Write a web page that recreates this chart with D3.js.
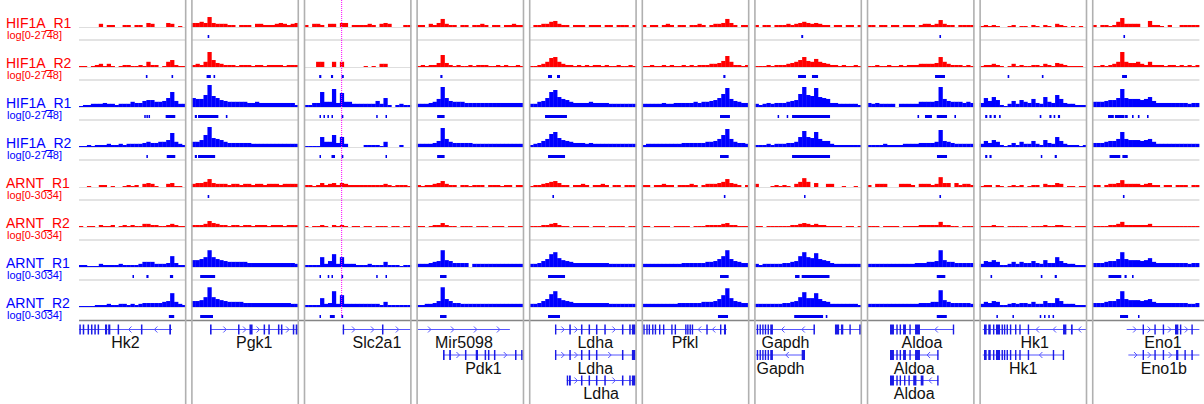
<!DOCTYPE html>
<html><head><meta charset="utf-8">
<script src="https://cdn.jsdelivr.net/npm/d3@7"></script>
<style>
body{margin:0;background:#fff;}
svg{display:block;font-family:"Liberation Sans",Arial,sans-serif;}
</style>
</head><body>
<svg id="chart" width="1204" height="404"></svg>
<script>
// ---------------- DATA ----------------
const loci = ["Hk2","Pgk1","Slc2a1","Mir5098","Ldha","Pfkl","Gapdh","Aldoa","Hk1","Eno1"];
const trackNames = ["HIF1A_R1","HIF1A_R2","HIF1A_R1","HIF1A_R2","ARNT_R1","ARNT_R2","ARNT_R1","ARNT_R2"];
const trackMax = [2748,2748,2748,2748,3034,3034,3034,3034];
const trackCondition = ["A","A","B","B","A","A","B","B"];

// binned coverage (27 bins per locus window), one sub-array per locus
const hif1aR1_A = [
 [0,0,0,0,0,2,0,1,1,0,0,1,1,0,1,1,0,3,2,0,0,0,3,2,0,0.4,0],
 [3,3,5,3,30,3,2,2,2,1,1,0,1,1,1,0,2,2,1,1,1,2,3,2,1,2,3],
 [1,0,2,2,1,0,2,2,0,3,3,0,1,1,1,1,2,1,0,2,3,2,0,0,0,1,1],
 [1,1,0,2,1,3,15,2,1,1,0,1,1,0,1,1,2,1,0,1,1,0,1,1,2,1,1],
 [0,1,1,2,2,5,7,2,1,1,0,1,1,1,0,1,1,1,0,1,1,0,1,1,1,0,1],
 [1,0,1,1,0,1,2,1,0,1,1,0,1,1,2,1,0,1,2,2,3,15,3,1,0,1,1],
 [1,0,1,1,0,1,1,1,2,1,2,3,5,3,2,3,2,1,1,0,1,1,0,1,1,0,1],
 [1,1,0,1,1,0,1,1,0,1,1,1,0,1,2,2,1,2,10,2,1,1,0,1,1,1,1],
 [0.4,1,0.4,1,0.4,0,0,0.4,1,0,0.4,0.4,0,1,0.4,0,1,0.4,0,2,1,0.4,0,0.4,0,0.4,0],
 [1,0,1,1,0.4,1,5,21,2,2,2,2,0,0,7,1,1,0.4,0,1,0,0,1,1,1,1,1]
];
const hif1aR2_A = [
 [0.4,0.4,0,0.4,1,2,0.4,2,0.4,0,0.4,1,1,0.4,0.4,1,0.4,5,1,1,0,0.4,5,10,1,0.4,0.4],
 [1,2,1,5,174,10,3,2,1,1,1,0.4,1,1,1,0.4,1,1,0.4,1,1,1,1,0.4,1,1,1],
 [0,0,0,5,5,0,0,5,0,5,0,0,0,0,0,0.4,0,0.4,0,2,2,0,0,0,0,0,0],
 [0.4,1,0.4,1,1,3,61,3,1,0.4,1,0.4,0.4,1,0.4,1,1,1,0.4,0.4,1,0.4,1,0.4,0.4,1,0.4],
 [0.4,0.4,1,2,5,21,30,5,2,1,1,0.4,1,0.4,1,0.4,1,1,0.4,1,0.4,0.4,1,0.4,0.4,1,0.4],
 [0.4,0.4,1,0.4,0.4,1,0.4,1,0.4,0.4,1,0.4,1,0.4,1,1,1,2,2,3,7,43,5,1,1,0.4,1],
 [0.4,0.4,0.4,1,0.4,1,1,1,2,3,5,10,30,7,5,15,5,3,2,1,1,0.4,1,0.4,0.4,1,0.4],
 [0.4,0.4,1,0.4,0.4,1,0.4,0.4,1,0.4,1,1,1,2,2,2,2,3,30,5,2,1,1,1,0.4,1,0.4],
 [0.4,1,1,2,1,0.4,0,0.4,2,0.4,1,0.4,0.4,1,1,0.4,2,1,0.4,3,2,1,0.4,0.4,0.4,0.4,0],
 [0.4,0.4,1,0.4,1,2,5,174,5,3,3,5,2,1,5,1,1,1,0.4,1,1,0.4,1,0.4,1,0.4,1]
];
const hif1aR1_B = [
 [0.4,1,1,2,2,2,3,2,2,1,2,2,2,5,3,3,7,10,10,5,5,7,21,174,7,2,2],
 [21,15,15,61,1947,43,21,10,7,5,5,5,5,5,3,3,5,3,3,3,3,3,3,3,3,3,1],
 [1,1,3,3,174,5,5,490,3,123,5,5,2,2,2,2,2,2,7,2,21,1,0,1,2,1,1],
 [2,2,2,3,5,15,977,21,7,5,5,5,3,3,3,3,3,3,3,3,3,3,3,3,3,3,3],
 [2,2,5,7,21,174,347,30,15,10,5,3,3,3,3,5,3,3,3,3,2,2,2,2,2,2,2],
 [2,2,2,2,2,3,2,2,3,3,3,3,3,5,3,5,5,7,10,21,87,692,15,7,5,3,3],
 [2,1,2,3,2,3,3,3,5,7,10,87,977,61,43,692,30,21,15,3,3,2,2,2,2,2,1],
 [3,2,3,2,2,2,2,0,2,2,2,2,2,5,5,5,5,7,977,15,7,5,5,5,3,5,3],
 [3,21,7,30,10,1,0.4,2,7,2,10,5,3,15,3,2,30,5,3,61,15,3,2,2,1,1,1],
 [5,5,5,7,10,10,21,490,21,15,15,15,10,15,30,7,3,3,3,3,3,3,3,3,2,3,3]
];
const hif1aR2_B = [
 [0.4,0.4,1,0.4,1,1,1,2,1,1,2,1,2,2,2,2,3,5,3,3,5,5,10,123,5,2,1],
 [5,5,10,61,977,21,15,10,5,3,3,3,3,3,3,2,2,2,2,2,2,2,2,2,2,2,2],
 [0.4,0.4,0.4,0.4,30,5,5,61,3,30,2,0,0,0,0,1,1,1,1,0.4,5,0,0,0,1,0,0],
 [2,2,2,2,3,7,692,15,5,3,3,3,3,3,2,2,2,2,2,2,2,2,2,2,2,2,2],
 [1,2,3,7,15,87,174,21,10,7,5,3,3,3,2,3,2,2,2,2,2,2,2,2,2,2,2],
 [1,2,2,2,2,2,2,2,2,2,3,3,3,3,3,3,5,5,7,15,61,490,15,5,3,3,2],
 [1,1,1,2,1,2,2,2,3,3,5,30,246,30,21,174,15,7,7,2,1,1,1,1,1,1,1],
 [1,1,1,1,2,1,1,1,1,2,2,2,2,3,3,3,3,5,347,7,5,3,2,2,2,2,2],
 [2,7,3,10,5,1,0.4,1,3,1,5,2,2,7,2,1,10,3,2,30,7,2,1,1,1,0.4,1],
 [3,3,3,5,7,7,15,174,15,10,10,10,7,10,15,5,2,2,2,2,2,2,2,2,2,2,2]
];
const arntR1_A = [
 [0,0,0.4,0,0,1,1,0,0.4,0,0,0.4,1,0.4,1,0,2,3,2,0.4,0,0,2,3,0.4,0.4,0],
 [2,3,3,5,15,3,2,2,2,1,2,2,1,2,2,1,2,2,1,2,2,2,1,2,2,2,2],
 [1,1,0.4,1,3,1,2,3,1,3,2,1,1,1,1,1,1,1,1,1,2,1,0.4,1,1,1,0.4],
 [1,0.4,1,1,2,3,7,2,1,1,0,1,1,0.4,1,1,1,0,1,1,1,0.4,1,1,0,1,1],
 [0.4,1,1,2,3,5,7,3,1,1,0,1,1,2,1,0,1,1,2,1,0,1,1,0,1,1,1],
 [1,1,0,1,1,2,1,1,0,1,1,1,2,1,0,1,2,2,2,3,5,15,3,2,1,0,1],
 [2,0,0,0,0.4,1,0.4,1,0.4,0,2,5,21,5,0,3,0,0,2,2,0,0,0.4,0,0,0.4,0],
 [1,0,2,2,2,0,0,0,2,2,2,1,0,2,2,2,1,2,30,3,3,0,3,1,2,2,1],
 [0.4,1,1,0,1,0.4,0,0.4,1,0.4,1,0,0.4,1,1,0,2,1,1,3,2,0,0.4,0.4,0,0.4,0.4],
 [1,1,0,1,2,2,3,10,2,2,2,2,1,2,3,1,1,0,1,1,0,1,1,1,0,1,1]
];
const arntR2_A = [
 [0.4,0,0.4,0.4,0,1,0.4,0.4,1,0,0.4,1,0.4,1,0.4,0.4,2,2,1,1,0.4,0.4,1,2,1,0.4,0.4],
 [1,1,1,2,7,3,2,1,1,0.4,1,1,0.4,1,1,0.4,1,1,1,0.4,1,1,1,0.4,1,1,1],
 [0.4,0,0.4,0.4,1,0.4,0,1,0.4,1,0.4,0,0.4,0.4,0,0.4,0.4,0,0.4,0.4,0.4,0,0.4,0.4,0,0.4,0.4],
 [0.4,0.4,0,0.4,1,1,3,1,0.4,0.4,0,0.4,0.4,0.4,0,0.4,0.4,0.4,0,0.4,0.4,0.4,0,0.4,0.4,0.4,0.4],
 [0.4,0.4,0.4,1,1,2,3,1,0.4,0.4,0,0.4,0.4,0.4,0.4,0,0.4,0.4,0.4,0,0.4,0.4,0.4,0.4,0,0.4,0.4],
 [0.4,0.4,0,0.4,0.4,0.4,0.4,0,0.4,0.4,0.4,0.4,0,0.4,0.4,0.4,1,1,1,1,2,3,1,1,0.4,0.4,0.4],
 [0.4,0.4,0,0.4,0.4,0.4,0.4,0.4,0.4,1,1,2,3,2,1,2,1,1,0.4,0.4,0.4,0.4,0,0.4,0.4,0,0.4],
 [0.4,0.4,0.4,0,0.4,0.4,0.4,0.4,0,0.4,0.4,0.4,0.4,1,1,1,1,1,5,1,1,0.4,0.4,0,0.4,0.4,0.4],
 [0.4,0.4,0.4,1,0.4,0.4,0,0.4,0.4,0.4,0.4,0.4,0,0.4,0.4,0.4,1,0.4,0.4,1,1,0.4,0.4,0,0.4,0.4,0.4],
 [0.4,0.4,0.4,0.4,1,1,2,5,1,1,1,1,1,1,2,0.4,0.4,0.4,0.4,0.4,0.4,0.4,0.4,0.4,0.4,0.4,0.4]
];
const arntR1_B = [
 [1,1,0.4,0.4,0.4,2,1,1,1,1,2,1,1,1,1,2,5,5,5,2,2,2,3,43,3,1,1],
 [10,10,15,30,347,30,15,10,7,5,5,5,5,5,3,3,3,3,3,3,3,3,3,3,3,3,2],
 [1,1,1,1,30,2,7,87,2,30,2,2,2,1,1,1,2,1,1,1,5,1,1,1,0.4,1,1],
 [2,2,2,3,5,7,347,10,7,3,3,3,3,0,2,2,2,2,2,2,2,2,2,2,2,2,2],
 [2,2,3,7,15,87,174,21,10,7,5,3,3,3,3,3,3,3,3,3,2,2,2,2,2,2,2],
 [2,2,2,2,2,2,2,2,2,2,3,3,3,3,3,3,5,5,7,15,43,347,15,7,5,3,3],
 [2,1,2,2,2,2,2,3,3,5,7,43,174,30,21,123,15,10,7,3,2,2,2,2,2,2,2],
 [2,2,2,2,2,2,2,2,2,2,2,2,3,3,3,5,5,7,347,10,5,5,3,3,3,3,3],
 [2,7,5,10,5,1,1,2,5,2,5,3,3,7,3,2,10,3,3,30,7,3,2,2,1,1,1],
 [3,3,3,5,7,7,15,174,15,10,10,10,7,10,21,5,3,3,3,3,3,3,3,3,2,3,3]
];
const arntR2_B = [
 [0.4,0.4,0.4,0.4,1,1,1,2,1,1,2,2,1,2,1,2,3,3,3,3,3,5,7,123,5,2,1],
 [7,7,10,30,977,30,15,10,7,5,5,5,5,3,3,3,3,3,3,3,3,3,3,3,3,2,2],
 [1,1,1,1,21,2,3,246,2,61,2,2,2,2,2,2,2,2,2,1,5,1,1,1,1,1,1],
 [1,1,2,2,3,7,977,15,7,3,3,2,2,2,2,2,2,2,2,2,2,2,2,2,2,2,2],
 [2,2,3,7,15,87,246,21,10,7,5,3,3,3,3,3,3,3,3,3,2,2,2,2,2,2,2],
 [2,2,2,2,2,2,2,2,2,3,3,3,3,3,3,5,5,5,7,15,61,692,21,7,5,3,3],
 [2,2,2,2,2,2,2,3,3,5,7,30,174,21,21,123,15,7,5,2,2,2,2,2,2,2,1],
 [2,2,2,2,2,2,2,2,2,2,2,2,2,3,3,3,5,5,347,10,5,3,3,3,3,3,2],
 [2,5,3,7,5,1,1,2,3,2,3,3,2,5,2,2,7,3,3,21,7,2,2,2,1,1,1],
 [3,3,3,5,7,7,15,246,15,10,10,10,7,10,15,5,3,3,3,3,3,3,3,3,2,2,3]
];

// called peaks: [start,end] in percent of each locus window
const peaksHif1aR1_A = [[],[[15,16.5]],[],[],[],[],[[43.6,45.4]],[[67.5,69]],[],[[29,30.5]]];
const peaksHif1aR2_A = [[[62.5,64],[86.5,88]],[[14,18],[20.5,22]],[[14,16],[25,27],[35,37]],[[22,24]],[[17.4,21.1],[25.8,28.6]],[[76,78]],[[40.6,48],[53.6,59.3]],[[63.4,72.7]],[[26,27.5],[58,59.5]],[[27.7,32.3]]];
const peaksHif1aR1_B = [[[61,62],[63,64],[65,66],[81,90]],[[3,5],[6,25],[32,33.5]],[[14.3,15.5],[18,19.2],[21.7,23],[25.5,26.7],[35,36.6],[67.3,68.5],[76,77.2]],[[19,26]],[[14.6,35.1]],[[72.9,82.2]],[[21.5,22.8],[30,31.4],[35,70.5]],[[47,48.5],[54,60.5],[65,74.6],[81.5,83]],[[5,7],[9,11],[13,15],[18,19.5],[56,57.5],[65,67],[69,70.5],[73,75]],[[14.6,20],[21,30],[30.5,33],[37,38.5],[42.5,44],[51,52.5]]];
const peaksHif1aR2_B = [[[63,64.2],[82,90]],[[3,5],[6,22]],[[14.3,15.5],[25.5,28.8],[35,36.6],[76,77.2]],[[19,26]],[[17.4,33.3]],[[72.9,81]],[[35,70.5]],[[65.2,74.6]],[[5,7],[9,11],[57,58.2],[70,72]],[[16,26],[28,33]]];
const peaksArntR1_A = [[],[[15,16.5]],[],[],[[21.5,23]],[[76.5,78]],[[46.2,47.6]],[[67.5,69]],[],[[28.5,30]]];
const peaksArntR2_A = [[],[],[],[],[],[],[],[],[],[]];
const peaksArntR1_B = [[[50,51.2],[63,65],[85,88]],[[8,22]],[[14.3,15.5],[22,23.2],[25.5,26.7],[34.8,36.4],[67.3,68.5],[76,77.2]],[[21.7,27.8]],[[17.4,33.3]],[[72.9,81]],[[37.8,42],[44,70]],[[65,73]],[[10,11.5],[57,58.5],[70,72]],[[15,27],[30,32],[37,38.5]]];
const peaksArntR2_B = [[[84,89]],[[8,20]],[[14.3,15.5],[24,28.6],[34.8,36.4]],[[21.7,27.8]],[[17.4,28.6]],[[71,80.4]],[[37,64],[66.5,68]],[[65,74.4]],[[15.5,16.5],[30.5,31.5],[56,57],[60,61],[64,65],[68,69]],[[25.8,33.3],[42.6,43.6]]];

// gene models (percent of locus window)
const genes = [
 {name:"Hk2", locus:0, row:0, strand:"-", start:0, end:87, exons:[[0.3,1.7],[3.5,4.9],[8,9.4],[11.2,12.6],[14.3,15.7],[17.4,18.8],[24.3,26.3],[27.3,29.3],[36.1,37.5],[57.9,59.3],[84.4,86]]},
 {name:"Pgk1", locus:1, row:0, strand:"+", start:17.2, end:100, exons:[[17.2,18.7],[43.4,44.8],[54.1,57],[67.3,68.7],[71.7,73.1],[80.7,82.1],[83.5,84.9],[94.6,96],[97.3,98.7],[99,100]]},
 {name:"Slc2a1", locus:2, row:0, strand:"+", start:36, end:100, exons:[[36,37.2],[72.7,74.1]]},
 {name:"Mir5098", locus:3, row:0, strand:"+", start:1.1, end:87, exons:[]},
 {name:"Pdk1", locus:3, row:1, strand:"+", start:24.5, end:100, exons:[[24.5,26],[30.3,31.9],[45,46.4],[55.1,57.2],[63.4,64.8],[66.5,67.9],[72.1,73.5],[91.8,93.2],[97.5,99]]},
 {name:"Ldha", locus:4, row:0, strand:"+", start:23.9, end:99.2, exons:[[23.9,25.2],[37.3,38.7],[48.2,49.6],[55.3,56.7],[62.2,63.6],[70,71.4],[86.5,87.9],[93.3,94.7],[95.8,99.2]]},
 {name:"Ldha", locus:4, row:1, strand:"+", start:23.9, end:99.2, exons:[[23.9,25],[37.3,38.7],[48.2,49.6],[55.3,56.7],[62.2,63.6],[86.5,87.9],[95.8,99.2]]},
 {name:"Ldha", locus:4, row:2, strand:"+", start:34.9, end:99.2, exons:[[34.9,36.2],[37,38.7],[48.2,49.6],[55.3,56.7],[62.2,63.6],[70,71.4],[86.5,87.9],[93.3,94.7],[95.8,99.2]]},
 {name:"Pfkl", locus:5, row:0, strand:"-", start:1.2, end:79.2, exons:[[1.2,2.4],[4,5.2],[6.2,7.4],[9.4,10.6],[11.9,13.1],[15.9,17.1],[19.6,20.8],[27.3,28.5],[30.5,31.7],[40.3,41.4],[42.2,43.3],[44.4,45.5],[46.5,47.7],[60.1,61.3],[72.9,74.1],[76.6,78.5]]},
 {name:"Gapdh", locus:6, row:0, strand:"-", start:1.3, end:56.4, exons:[[2,3.2],[4.6,5.8],[7.1,8.3],[9.5,10.7],[12.1,13.3],[14.6,17.1],[55,56.4]]},
 {name:null, locus:6, row:0, strand:"-", start:75.1, end:100, exons:[[75.1,79],[80.7,82.9],[88.6,89.8],[97.8,100]]},
 {name:"Gapdh", locus:6, row:1, strand:"-", start:1.3, end:47.1, exons:[[2,3.2],[4.6,5.8],[7.1,8.3],[9.5,10.7],[12.1,13.3],[14.6,17.1],[44,47.1]]},
 {name:"Aldoa", locus:7, row:0, strand:"-", start:21.3, end:81, exons:[[21.3,25],[27.2,28.3],[30.3,31.5],[33.5,36.2],[39.4,40.6],[44.7,49.3],[80,81]]},
 {name:"Aldoa", locus:7, row:1, strand:"-", start:21.3, end:66.5, exons:[[21.3,25],[27.2,28.3],[30.3,31.5],[33.5,36.2],[39.4,40.6],[44.7,49.3],[65.4,66.5]]},
 {name:"Aldoa", locus:7, row:2, strand:"-", start:21.3, end:66.5, exons:[[21.3,25],[27.2,28.3],[30.3,31.5],[34.4,35.6],[38.5,39.7],[43,46],[50,52.6],[65.4,66.5]]},
 {name:"Hk1", locus:8, row:0, strand:"-", start:2.7, end:100, exons:[[3.9,6.4],[7.9,10.2],[12.3,13.5],[15.1,18.9],[20.3,21.4],[22.5,23.6],[25,26.1],[28.1,29.3],[32.9,34.1],[36.9,38.1],[44.8,46],[77.8,80.9],[85.2,86.8]]},
 {name:"Hk1", locus:8, row:1, strand:"-", start:2.7, end:78.5, exons:[[3.9,6.4],[7.9,10.2],[12.3,13.5],[15.1,18.9],[20.3,21.4],[22.5,23.6],[25,26.1],[28.1,29.3],[32.9,34.1],[36.9,38.1],[44.8,46],[68.2,69.4],[77.5,78.5]]},
 {name:"Eno1", locus:9, row:0, strand:"+", start:32, end:100, exons:[[46.9,48.1],[57.9,59.1],[65.7,66.9],[77.2,80.3],[81.8,83],[92.5,93.7]]},
 {name:"Eno1b", locus:9, row:1, strand:"+", start:33.6, end:100, exons:[[46.9,48.1],[57.9,59.1],[65.7,66.9],[78.2,80.3],[86,87.2],[92.5,93.7]]}
];
// region-of-interest marker (locus index, percent position)
const markerLocus = 2;
const markerPos = 35;

// ---------------- DRAW ----------------
const signals = [hif1aR1_A, hif1aR2_A, hif1aR1_B, hif1aR2_B, arntR1_A, arntR2_A, arntR1_B, arntR2_B];
const peakSets = [peaksHif1aR1_A, peaksHif1aR2_A, peaksHif1aR1_B, peaksHif1aR2_B, peaksArntR1_A, peaksArntR2_A, peaksArntR1_B, peaksArntR2_B];
const condColor = {A:"#ff0000", B:"#0000ff"};

const svg = d3.select("#chart");
const panel = d3.scaleBand().domain(d3.range(loci.length)).range([79, 1199.4]).paddingInner(0.05).paddingOuter(0);
const bw = panel.bandwidth();
const rowScale = d3.scaleBand().domain(d3.range(trackNames.length)).range([0, 320]);
const nBins = 27;
const pctScale = p => d3.scaleLinear().domain([0, 100]).range([panel(p), panel(p) + bw]);

// separators and baselines
const gLines = svg.append("g");
trackNames.forEach((n, t) => {
  const top = rowScale(t);
  loci.forEach((l, p) => {
    gLines.append("line").attr("x1", panel(p)).attr("x2", panel(p) + bw)
      .attr("y1", top + 27.5).attr("y2", top + 27.5).attr("stroke", "#dedede").attr("stroke-width", 1);
    if (t < trackNames.length - 1) {
      gLines.append("line").attr("x1", panel(p)).attr("x2", panel(p) + bw)
        .attr("y1", top + 40).attr("y2", top + 40).attr("stroke", "#e3e3e3").attr("stroke-width", 2);
    }
  });
});

// signals
trackNames.forEach((n, t) => {
  const top = rowScale(t);
  const base = top + 27;
  const y = d3.scaleSymlog().constant(1).domain([0, trackMax[t]]).range([base, base - 23]);
  const g = svg.append("g").attr("fill", condColor[trackCondition[t]]);
  signals[t].forEach((vals, p) => {
    const xb = d3.scaleLinear().domain([0, nBins]).range([panel(p), panel(p) + bw]);
    g.selectAll(null).data(vals.map((v, i) => ({v, i})).filter(d => d.v > 0)).join("rect")
      .attr("x", d => xb(d.i))
      .attr("width", d => Math.min(xb(d.i + 1) + 0.3, panel(p) + bw) - xb(d.i))
      .attr("y", d => y(d.v))
      .attr("height", d => base - y(d.v));
  });
  // peaks
  const gp = svg.append("g").attr("fill", "#0000ee");
  peakSets[t].forEach((list, p) => {
    const xs = pctScale(p);
    gp.selectAll(null).data(list).join("rect")
      .attr("x", d => xs(d[0]))
      .attr("width", d => Math.max(1.5, xs(d[1]) - xs(d[0])))
      .attr("y", top + 35).attr("height", 3);
  });
  // labels
  svg.append("text").attr("x", 6).attr("y", top + 27.5)
    .attr("font-size", 14).attr("fill", condColor[trackCondition[t]]).text(n);
  svg.append("text").attr("x", 7).attr("y", top + 39)
    .attr("font-size", 11).attr("fill", condColor[trackCondition[t]]).text(`log[0-${trackMax[t]}]`);
});

// bottom axis line of data panel
svg.append("line").attr("x1", 79).attr("x2", 1204).attr("y1", 320.5).attr("y2", 320.5)
  .attr("stroke", "#858585").attr("stroke-width", 1.5);

// genes
const geneRowY = r => 329 + 25.5 * r;
const gGenes = svg.append("g");
genes.forEach(g => {
  const xs = pctScale(g.locus);
  const y0 = geneRowY(g.row);
  const gg = gGenes.append("g");
  gg.append("line").attr("x1", xs(g.start)).attr("x2", xs(g.end)).attr("y1", y0 + 0.5).attr("y2", y0 + 0.5)
    .attr("stroke", "#5555ff").attr("stroke-width", 1);
  const ex = g.exons.slice().sort((a, b) => a[0] - b[0]);
  const bounds = [g.start, ...ex.flat(), g.end];
  for (let i = 0; i < bounds.length; i += 2) {
    const a = xs(bounds[i]), b = xs(bounds[i + 1]);
    const L = b - a;
    if (L < 9.5) continue;
    const k = Math.max(1, Math.round(L / 22));
    for (let j = 0; j < k; j++) {
      const cx = a + (j + 0.5) * L / k;
      const d = g.strand === "+" ? `M${cx - 1.5},${y0 - 2.5}L${cx + 1.5},${y0 + 0.5}L${cx - 1.5},${y0 + 3.5}`
                                  : `M${cx + 1.5},${y0 - 2.5}L${cx - 1.5},${y0 + 0.5}L${cx + 1.5},${y0 + 3.5}`;
      gg.append("path").attr("d", d).attr("fill", "none").attr("stroke", "#5555ff").attr("stroke-width", 1);
    }
  }
  gg.selectAll(null).data(ex).join("rect")
    .attr("x", d => xs(d[0])).attr("width", d => Math.max(1.4, xs(d[1]) - xs(d[0])))
    .attr("y", y0 - 4.5).attr("height", 10).attr("fill", "#1a1ae6");
  if (g.name) {
    gg.append("text").attr("x", (xs(g.start) + xs(g.end)) / 2).attr("y", y0 + 19)
      .attr("text-anchor", "middle").attr("font-size", 16).attr("fill", "#111").text(g.name);
  }
});

// panel separators
loci.forEach((l, p) => {
  if (p > 0) svg.append("line").attr("x1", panel(p) + 0.3).attr("x2", panel(p) + 0.3).attr("y1", 0).attr("y2", 404)
    .attr("stroke", "#b0b0b0").attr("stroke-width", 1.6);
  if (p < loci.length - 1) svg.append("line").attr("x1", panel(p) + bw - 0.3).attr("x2", panel(p) + bw - 0.3).attr("y1", 0).attr("y2", 404)
    .attr("stroke", "#b0b0b0").attr("stroke-width", 1.6);
});

// marker line
const mx = pctScale(markerLocus)(markerPos);
svg.append("line").attr("x1", mx).attr("x2", mx).attr("y1", 0).attr("y2", 318)
  .attr("stroke", "#ff00ff").attr("stroke-width", 1).attr("stroke-dasharray", "1,1");
</script>
</body></html>
